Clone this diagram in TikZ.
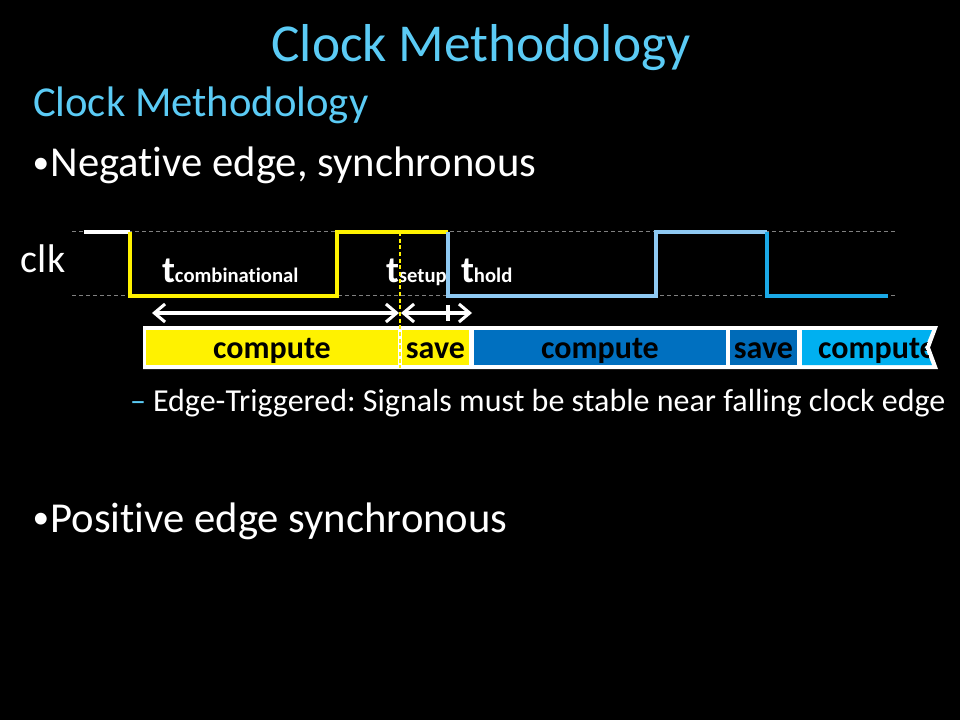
\documentclass[tikz,border=0pt]{standalone}
\usepackage{fontspec}
\setmainfont{Carlito}[Ligatures={TeX,NoCommon}]
\usetikzlibrary{arrows.meta}
\definecolor{titlecyan}{HTML}{5BCBF5}
\definecolor{wavelight}{HTML}{8EC9F2}
\definecolor{wavebright}{HTML}{1BA9E6}
\definecolor{segblue}{HTML}{0070C0}
\definecolor{segsave}{HTML}{006BB8}
\definecolor{seglight}{HTML}{00B0F0}
\definecolor{dashgray}{HTML}{808080}
\frenchspacing
\begin{document}
\begin{tikzpicture}[x=0.75pt,y=-0.75pt,
  txt/.style={inner sep=0pt, outer sep=0pt, anchor=base west, text=white},
  bul/.style={inner sep=0pt, outer sep=0pt, anchor=center, text=white, font=\fontsize{25}{27}\selectfont},
  segbox/.style={inner sep=0pt, outer sep=0pt, minimum height=35*0.75pt,
     text height=18.75pt, text depth=3pt, font=\bfseries\fontsize{24}{28}\selectfont, text=black},
  gridline/.style={dashgray, line width=0.75pt, dash pattern=on 3pt off 2.25pt},
  wave/.style={line width=2.6pt, line join=miter},
  dbl/.style={white, line width=2.3pt, {Straight Barb[length=8pt,width=13.5pt,line width=2.3pt]}-{Straight Barb[length=8pt,width=13.5pt,line width=2.3pt]}}
]
\fill[black] (0,0) rectangle (960,720);
\useasboundingbox (0,0) rectangle (960,720);

% headings
\node[txt, anchor=base, text=titlecyan, font=\fontsize{40}{48}\selectfont] (title) at (481,62) {Clock Methodology};
\node[txt, text=titlecyan, font=\fontsize{32}{38}\selectfont] (sub) at (33,117) {Clock Methodology};
\node[bul] (bul1) at (41,166) {•};
\node[txt, font=\fontsize{32}{38}\selectfont] (b1) at (50.5,177) {Negative edge, synchronous};
\node[txt, font=\fontsize{30}{36}\selectfont] (clk) at (21,273) {clk};

% grid dashed lines
\draw[gridline] (72,232) -- (897,232);
\draw[gridline] (72,296) -- (897,296);

% clock waveform
\draw[wave, white] (84,232) -- (130,232);
\draw[wave, yellow] (130,232) -- (130,296) -- (337,296) -- (337,232) -- (448,232);
\draw[wave, wavelight] (448,232) -- (448,296) -- (656,296) -- (656,232) -- (767,232);
\draw[wave, wavebright] (767,232) -- (767,296) -- (888,296);

% timing labels
\node[txt, font=\bfseries] (tc) at (162,282) {{\fontsize{28}{30}\selectfont t}{\fontsize{15.5}{18}\selectfont combinational}};
\node[txt, font=\bfseries] (ts) at (386,282) {{\fontsize{28}{30}\selectfont t}{\fontsize{15.5}{18}\selectfont setup}};
\node[txt, font=\bfseries] (th) at (461,282) {{\fontsize{28}{30}\selectfont t}{\fontsize{15.5}{18}\selectfont hold}};

% bar frame
\fill[white] (143,326) -- (938,326) -- (930,347.5) -- (938,369) -- (143,369) -- cycle;
\node[segbox, fill=yellow, minimum width=252*0.75pt] (c1) at (272,347.5) {compute};
\node[segbox, fill=yellow, minimum width=67*0.75pt] (s1) at (435.5,347.5) {save};
\node[segbox, fill=segblue, minimum width=252*0.75pt] (c2) at (600,347.5) {compute};
\node[segbox, fill=segsave, minimum width=67*0.75pt] (s2) at (763.5,347.5) {save};
\fill[seglight] (802,330) -- (932,330) -- (925,347.5) -- (932,365) -- (802,365) -- cycle;
\begin{scope}
  \clip (802,330) -- (932,330) -- (925,347.5) -- (932,365) -- (802,365) -- cycle;
  \node[segbox, minimum width=116*0.75pt] (c3) at (877,347.5) {compute};
\end{scope}

% arrows
\coordinate (a1l) at (152,313);
\coordinate (a1r) at (399,313);
\coordinate (a2l) at (401,313);
\coordinate (a2r) at (472,313);
\coordinate (tkt) at (448,305);
\coordinate (tkb) at (448,321);
\draw[dbl] (a1l) -- (a1r);
\draw[dbl] (a2l) -- (a2r);
\draw[white, line width=3pt] (tkt) -- (tkb);

% setup edge marker
\coordinate (mk1) at (400,232);
\coordinate (mk2) at (400,368);
\draw[yellow, line width=1.2pt, dash pattern=on 3pt off 2pt] (mk1) -- (mk2);

% body text
\node[txt, text=titlecyan, font=\fontsize{24}{28}\selectfont] (dash) at (130,411) {–};
\node[txt, font=\fontsize{24}{28}\selectfont] (edge) at (153,411) {Edge-Triggered: Signals must be stable near falling clock edge};
\node[bul] (bul2) at (41,521) {•};
\node[txt, font=\fontsize{32}{38}\selectfont] (b2) at (50.5,532) {Positive edge synchronous};
\end{tikzpicture}
\end{document}
